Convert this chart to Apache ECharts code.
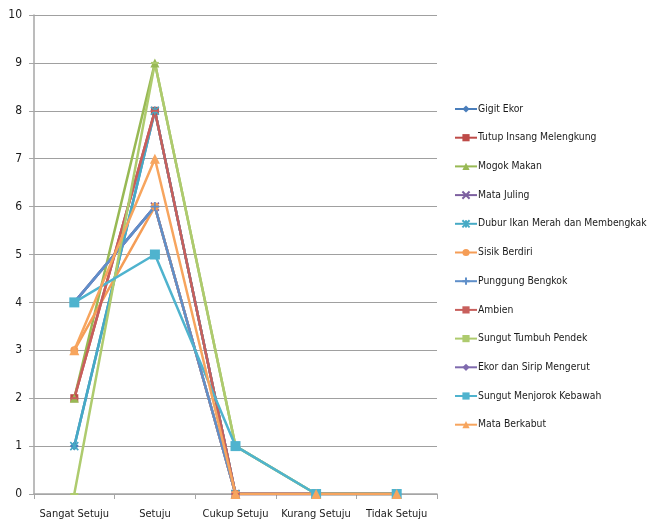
<!DOCTYPE html>
<html>
<head>
<meta charset="utf-8">
<script src="https://cdn.jsdelivr.net/npm/echarts@6/dist/echarts.min.js"></script>
<style>
  html, body { margin: 0; padding: 0; background: #fff; }
  #chartContainer { width: 653px; height: 527px; }
</style>
</head>
<body>
<div id="chartContainer"></div>
<script>
'use strict';
const categories = ['Sangat Setuju', 'Setuju', 'Cukup Setuju', 'Kurang Setuju', 'Tidak Setuju'];
const yTicks = [0, 1, 2, 3, 4, 5, 6, 7, 8, 9, 10];

const gigitEkor = [1, 8, 0, 0, 0];
const tutupInsang = [2, 8, 0, 0, 0];
const mogokMakan = [2, 9, 1, 0, 0];
const mataJuling = [4, 6, 0, 0, 0];
const duburIkan = [1, 8, 0, 0, 0];
const sisikBerdiri = [3, 6, 0, 0, 0];
const punggungBengkok = [4, 6, 0, 0, 0];
const ambien = [2, 8, 0, 0, 0];
const sungutTumbuh = [0, 9, 1, 0, 0];
const ekorSirip = [4, 6, 0, 0, 0];
const sungutMenjorok = [4, 5, 1, 0, 0];
const mataBerkabut = [3, 7, 0, 0, 0];

let initChart = (function() {
    let chartContainer = document.getElementById('chartContainer');
    let demoChart = echarts.init(chartContainer);
    const font = ['DejaVu Sans Condensed', 'Liberation Sans Narrow', 'sans-serif'];

    const crossPath = 'path://M0,0L10,10M10,0L0,10';
    const starPath = 'path://M0,0L10,10M10,0L0,10M5,0L5,10';
    const plusPath = 'path://M5,0L5,10M0,5L10,5';

    function mk(name, data, color, symbol, size, stroke, z) {
        let s = {
            name: name,
            type: 'line',
            data: data,
            symbol: symbol,
            symbolSize: size,
            z: z || 2,
            lineStyle: { color: color, width: 2.5 },
            itemStyle: { color: color },
            emphasis: { disabled: true }
        };
        if (stroke) {
            s.itemStyle = { color: 'rgba(0,0,0,0)', borderColor: color, borderWidth: 1.6 };
        }
        return s;
    }

    let series = [
        mk('Gigit Ekor', gigitEkor, '#4A7EBB', 'diamond', 9),
        mk('Tutup Insang Melengkung', tutupInsang, '#BE4B48', 'rect', 8),
        mk('Mogok Makan', mogokMakan, '#98B954', 'triangle', 9),
        mk('Mata Juling', mataJuling, '#7D60A0', crossPath, 8, true, 1),
        mk('Dubur Ikan Merah dan Membengkak', duburIkan, '#46AAC5', starPath, 8, true),
        mk('Sisik Berdiri', sisikBerdiri, '#F59D56', 'circle', 8),
        mk('Punggung Bengkok', punggungBengkok, '#5F8FC9', plusPath, 9, true),
        mk('Ambien', ambien, '#C85F5C', 'rect', [8, 2]),
        mk('Sungut Tumbuh Pendek', sungutTumbuh, '#AECB6E', 'rect', [8, 2]),
        mk('Ekor dan Sirip Mengerut', ekorSirip, '#7F6AAE', 'diamond', 9, false, 1),
        mk('Sungut Menjorok Kebawah', sungutMenjorok, '#4FB3CE', 'rect', 10),
        mk('Mata Berkabut', mataBerkabut, '#F7A55E', 'triangle', 10)
    ];

    let option = {
        backgroundColor: '#ffffff',
        animation: false,
        legend: {
            orient: 'vertical',
            left: 449,
            top: 99,
            itemWidth: 22,
            itemHeight: 9,
            itemGap: 18.7,
            textStyle: { fontFamily: font, fontSize: 10.3, color: '#1a1a1a', padding: [0, 0, 0, -4] },
            data: series.map(function(s) { return s.name; })
        },
        grid: {
            left: 34,
            right: 216,
            top: 15,
            bottom: 33
        },
        xAxis: {
            type: 'category',
            data: categories,
            boundaryGap: true,
            axisLine: { lineStyle: { color: '#A6A6A6', width: 1.5 } },
            axisTick: { show: true, length: 5, lineStyle: { color: '#A6A6A6' } },
            axisLabel: { interval: 0, fontFamily: font, fontSize: 11, color: '#1a1a1a', margin: 15 }
        },
        yAxis: {
            type: 'value',
            min: yTicks[0],
            max: yTicks[yTicks.length - 1],
            interval: 1,
            axisLine: { show: true, lineStyle: { color: '#A6A6A6', width: 1.5 } },
            axisTick: { show: true, length: 5, lineStyle: { color: '#A6A6A6' } },
            axisLabel: { fontFamily: font, fontSize: 12, color: '#1a1a1a', margin: 12 },
            splitLine: { lineStyle: { color: '#A0A0A0', width: 1.2 } }
        },
        series: series
    };

    demoChart.setOption(option);
})();
</script>
</body>
</html>
